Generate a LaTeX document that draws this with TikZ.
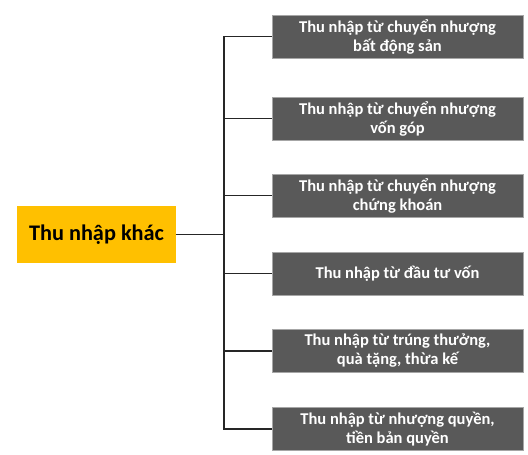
\documentclass[tikz,border=0pt]{standalone}
\usepackage{fontspec}
\setmainfont{Carlito}
\definecolor{gbox}{HTML}{595959}
\definecolor{ybox}{HTML}{FFC000}
\begin{document}
\begin{tikzpicture}[x=1pt,y=-1pt,
  leaf/.style={draw=gray!70, line width=0.6pt, fill=gbox, text=white, font=\bfseries\fontsize{16.5}{19}\selectfont, minimum width=251pt, minimum height=43pt, align=center, inner sep=0pt},
  root/.style={fill=ybox, text=black, font=\bfseries\fontsize{22.3}{26}\selectfont, minimum width=159pt, minimum height=57pt, inner sep=0pt},
  conn/.style={line width=1.4pt, black!85}]
\useasboundingbox (0,0) rectangle (528,455);
\node[root] (r) at (96.5,234.5) {Thu nhập khác};
\node[leaf] (a) at (397.5,36.5) {Thu nhập từ chuyển nhượng\\bất động sản};
\node[leaf] (b) at (397.5,118.5) {Thu nhập từ chuyển nhượng\\vốn góp};
\node[leaf] (c) at (397.5,195.5) {Thu nhập từ chuyển nhượng\\chứng khoán};
\node[leaf] (d) at (397.5,273.5) {Thu nhập từ đầu tư vốn};
\node[leaf] (e) at (397.5,351) {Thu nhập từ trúng thưởng,\\quà tặng, thừa kế};
\node[leaf] (f) at (397.5,429) {Thu nhập từ nhượng quyền,\\tiền bản quyền};
\coordinate (j) at (224,234.5);
\draw[conn] (r.east) -- (j);
\foreach \n in {a,b,c,d,e,f} \draw[conn] (\n.west) -| (j);
\end{tikzpicture}
\end{document}
